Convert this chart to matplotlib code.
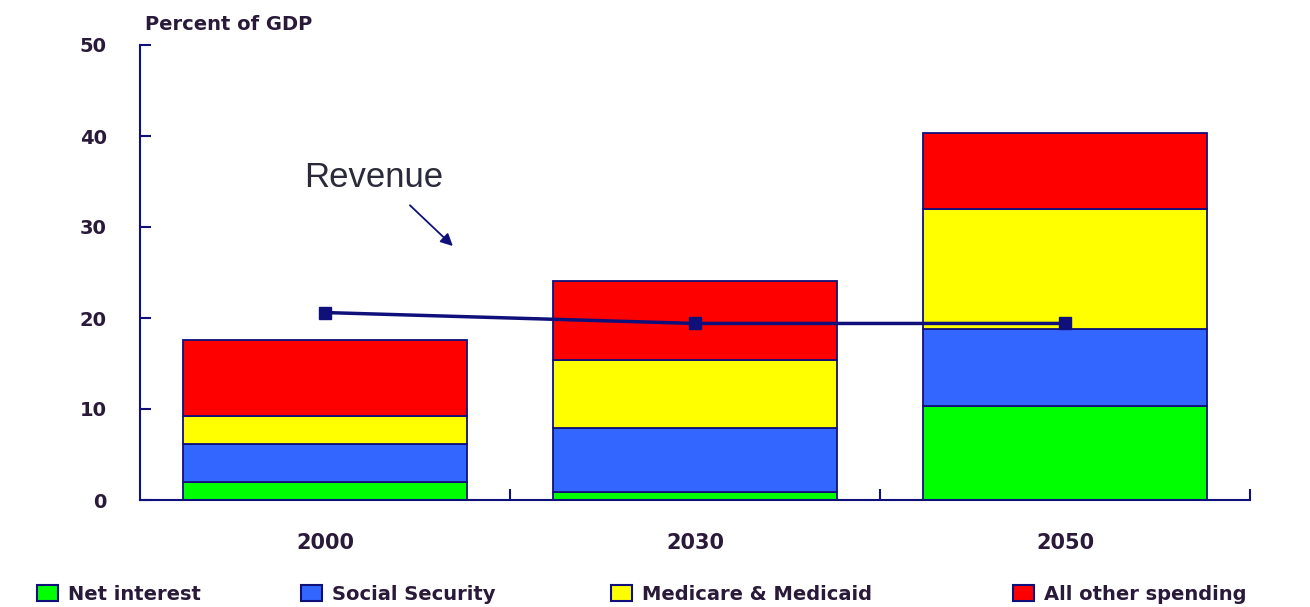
import numpy as np
import matplotlib.pyplot as plt
from matplotlib.patches import Patch

# values (percent of GDP)
years = ["2000", "2030", "2050"]
net_interest = [2.0, 0.9, 10.3]
social_security = [4.2, 7.0, 8.5]
medicare_medicaid = [3.0, 7.5, 13.2]
all_other = [8.4, 8.7, 8.3]
revenue = [20.6, 19.4, 19.4]

series = [
    ("Net interest", net_interest, "#00ff00"),
    ("Social Security", social_security, "#3366ff"),
    ("Medicare & Medicaid", medicare_medicaid, "#ffff00"),
    ("All other spending", all_other, "#ff0000"),
]
# left edge (px) of each legend box along the bottom
legend_x = [37, 301, 611, 1013]

NAVY = "#10107a"
TXT = "#2a1a3a"
W, H = 1310, 607

fig = plt.figure(figsize=(W / 100, H / 100), dpi=100)
ax = fig.add_axes([140 / W, 107 / H, 1110 / W, 455 / H])

x = np.arange(len(years))
bottom = np.zeros(len(years))
for name, vals, col in series:
    ax.bar(x, vals, width=0.77, bottom=bottom, color=col, edgecolor=NAVY,
           linewidth=1.3, label=name, zorder=2)
    bottom += np.array(vals)

ax.plot(x, revenue, color=NAVY, linewidth=2.5, marker="s", markersize=8, zorder=3)

ax.set_xlim(-0.5, 2.5)
ax.set_ylim(0, 50)
ax.set_yticks(range(0, 51, 10))
ax.set_xticks(x)
ax.set_xticklabels(years)
ax.set_xticks([0.5, 1.5, 2.5], minor=True)

for s in ["top", "right"]:
    ax.spines[s].set_visible(False)
for s in ["left", "bottom"]:
    ax.spines[s].set_color(NAVY)
    ax.spines[s].set_linewidth(1.5)

ax.tick_params(axis="y", direction="in", length=8, width=1.5, color=NAVY,
               labelsize=14, labelcolor=TXT, pad=24)
ax.tick_params(axis="x", which="major", length=0, labelsize=15,
               labelcolor=TXT, pad=24)
ax.tick_params(axis="x", which="minor", direction="in", length=8, width=1.5,
               color=NAVY)
for lbl in ax.get_xticklabels() + ax.get_yticklabels():
    lbl.set_fontweight("bold")

fig.text(145 / W, 1 - 25 / H, "Percent of GDP", fontsize=14,
         fontweight="bold", color=TXT, va="center", ha="left")

ax.annotate("", xy=(0.351, 27.7), xytext=(0.224, 32.6),
            arrowprops=dict(arrowstyle="-|>", color=NAVY, lw=1.3,
                            mutation_scale=18))
ax.text(0.132, 35.4, "Revenue", fontsize=25, family="Liberation Sans",
        color="#2a2a3a", ha="center", va="center")

for (name, vals, col), lx in zip(series, legend_x):
    h = Patch(facecolor=col, edgecolor=NAVY, linewidth=1.5, label=name)
    fig.legend(handles=[h], loc="center left",
               bbox_to_anchor=(lx / W, 1 - 594 / H), frameon=False,
               borderaxespad=0, borderpad=0, handlelength=1.1,
               handleheight=0.9, handletextpad=0.5,
               prop={"size": 14, "weight": "bold"}, labelcolor=TXT)

fig.savefig("out.png", dpi=100)
